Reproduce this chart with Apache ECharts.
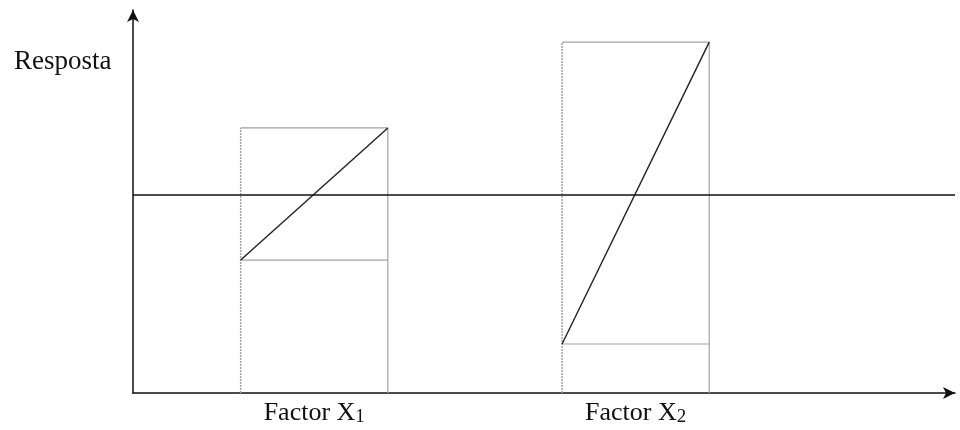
<!DOCTYPE html>
<html>
<head>
<meta charset="utf-8">
<script src="https://cdn.jsdelivr.net/npm/echarts@6/dist/echarts.min.js"></script>
<style>
  html, body { margin: 0; padding: 0; background: #fff; }
  #main { width: 960px; height: 430px; }
</style>
</head>
<body>
<div id="main"></div>
<script>
    // factores e caixas (unidades do eixo, 0..100)
    var factors = ['Factor X', 'Factor X'];
    var subs = ['1', '2'];
    var boxLeft = [13.1, 52.2];
    var boxRight = [31.0, 70.1];
    var boxTop = [69.2, 91.6];
    var boxLow = [34.7, 12.8];
    var centerLine = 51.7;

    var myChart = echarts.init(document.getElementById('main'));
    var grey = '#a3a3a3';
    var series = [];
    var labelPos = [];

    for (var i = 0; i < factors.length; i++) {
        labelPos.push((boxLeft[i] + boxRight[i]) / 2);
        // topo e lado direito
        series.push({
            type: 'line', symbol: 'none', silent: true,
            lineStyle: { color: grey, width: 1.2 },
            data: [[boxLeft[i], boxTop[i]], [boxRight[i], boxTop[i]], [boxRight[i], 0]]
        });
        // linha inferior da caixa
        series.push({
            type: 'line', symbol: 'none', silent: true,
            lineStyle: { color: grey, width: 1.2 },
            data: [[boxLeft[i], boxLow[i]], [boxRight[i], boxLow[i]]]
        });
        // lado esquerdo pontilhado
        series.push({
            type: 'line', symbol: 'none', silent: true,
            lineStyle: { color: grey, width: 1.5, type: [2, 1] },
            data: [[boxLeft[i], 0], [boxLeft[i], boxTop[i]]]
        });
        // diagonal
        series.push({
            type: 'line', symbol: 'none', silent: true,
            lineStyle: { color: '#222', width: 1.4 },
            data: [[boxLeft[i], boxLow[i]], [boxRight[i], boxTop[i]]]
        });
    }

    series.push({
        type: 'line', symbol: 'none', silent: true, data: [],
        markLine: {
            symbol: 'none', silent: true, label: { show: false },
            lineStyle: { color: '#111', width: 1.5, type: 'solid' },
            data: [{ yAxis: centerLine }]
        }
    });

    var option = {
        animation: false,
        title: {
            text: 'Resposta', left: 9, top: 43,
            textStyle: { fontFamily: 'Liberation Serif', fontSize: 27, fontWeight: 'normal', color: '#111' }
        },
        grid: { left: 133, right: 5, top: 10, bottom: 37 },
        xAxis: {
            type: 'value', min: 0, max: 100,
            splitLine: { show: false },
            axisTick: { show: false },
            axisLine: { lineStyle: { color: '#111', width: 1.5 }, symbol: ['none', 'arrow'], symbolSize: [9, 12] },
            axisLabel: {
                customValues: labelPos,
                margin: 5,
                formatter: function (v) {
                    var k = labelPos.indexOf(v);
                    return k < 0 ? '' : '{a|' + factors[k] + '}{s|' + subs[k] + '}';
                },
                rich: {
                    a: { fontFamily: 'Liberation Serif', fontSize: 26, color: '#111', lineHeight: 30 },
                    s: { fontFamily: 'Liberation Serif', fontSize: 19, color: '#111', padding: [9, 0, 0, 0], lineHeight: 30 }
                }
            }
        },
        yAxis: {
            type: 'value', min: 0, max: 100,
            splitLine: { show: false },
            axisTick: { show: false },
            axisLabel: { show: false },
            axisLine: { lineStyle: { color: '#111', width: 1.5 }, symbol: ['none', 'arrow'], symbolSize: [9, 12] }
        },
        series: series
    };
    myChart.setOption(option);
</script>
</body>
</html>
